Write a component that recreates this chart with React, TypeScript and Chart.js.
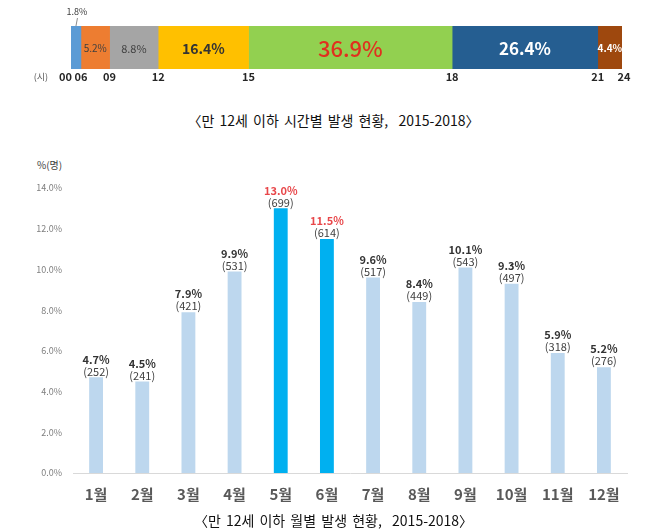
import React, { useEffect, useRef } from "react";
import { Chart, registerables } from "chart.js";

Chart.register(...registerables);

// ---------- data ----------
const hourTickLabels = ["00", "06", "09", "12", "15", "18", "21", "24"];
const hourShares = [1.8, 5.2, 8.8, 16.4, 36.9, 26.4, 4.4];

const monthLabels = ["1월", "2월", "3월", "4월", "5월", "6월", "7월", "8월", "9월", "10월", "11월", "12월"];
const monthShares = [4.7, 4.5, 7.9, 9.9, 13.0, 11.5, 9.6, 8.4, 10.1, 9.3, 5.9, 5.2];
const monthCounts = [252, 241, 421, 531, 699, 614, 517, 449, 543, 497, 318, 276];
const highlightMonthIdx = [4, 5];

const yTickMin = 0;
const yTickMax = 14;
const yTickStep = 2;

const hourCaption = "〈만 12세 이하 시간별 발생 현황,  2015-2018〉";
const monthCaption = "〈만 12세 이하 월별 발생 현황,  2015-2018〉";
const hourUnit = "(시)";
const yUnit = "%(명)";

// ---------- styles ----------
const FONT = "'Noto Sans CJK KR', 'Noto Sans', sans-serif";
const hourColors = ["#5B9BD5", "#ED7D31", "#A5A5A5", "#FFC000", "#92D050", "#255E91", "#9E480E"];
const segStyles = [
  { size: 9, weight: "normal", color: "#404040", outside: true },
  { size: 10, weight: "normal", color: "#404040" },
  { size: 11, weight: "normal", color: "#404040" },
  { size: 14, weight: "bold", color: "#333333" },
  { size: 22, weight: "500", color: "#E0301E" },
  { size: 17, weight: "bold", color: "#FFFFFF" },
  { size: 10, weight: "bold", color: "#FFFFFF" },
];
const LIGHT = "#BDD7EE";
const HIGHLIGHT = "#00B0F0";
const RED = "#E8474A";

const topPlugin = {
  id: "topLabels",
  afterDatasetsDraw(chart: any) {
    const ctx = chart.ctx;
    const xs = chart.scales.x;
    const area = chart.chartArea;
    ctx.save();
    ctx.textBaseline = "middle";
    hourShares.forEach((v, i) => {
      const el = chart.getDatasetMeta(i).data[0];
      const st = segStyles[i];
      const cx = (el.x + el.base) / 2;
      ctx.font = `${st.weight} ${st.size}px ${FONT}`;
      ctx.fillStyle = st.color;
      ctx.textAlign = "center";
      const txt = v.toFixed(1) + "%";
      if (st.outside) {
        ctx.fillText(txt, cx + 1, area.top - 14);
        ctx.strokeStyle = "#8C8C8C";
        ctx.lineWidth = 1;
        ctx.beginPath();
        ctx.moveTo(cx + 1.5, area.top - 8);
        ctx.lineTo(cx, area.top);
        ctx.stroke();
      } else {
        ctx.fillText(txt, cx, el.y + 1);
      }
    });
    // hour ticks
    const ty = area.bottom + 8;
    let cum = 0;
    ctx.font = `bold 11px ${FONT}`;
    ctx.fillStyle = "#262626";
    hourTickLabels.forEach((lab, i) => {
      const px = xs.getPixelForValue(cum);
      if (i === 0) {
        ctx.textAlign = "right";
        ctx.fillText(lab, px + 1, ty);
      } else {
        ctx.textAlign = "center";
        ctx.fillText(lab, px + (i === hourTickLabels.length - 1 ? 2 : 0), ty);
      }
      if (i < hourShares.length) cum += hourShares[i];
    });
    ctx.font = `normal 9px ${FONT}`;
    ctx.fillStyle = "#595959";
    ctx.textAlign = "right";
    ctx.fillText(hourUnit, xs.getPixelForValue(0) - 23, ty);
    ctx.restore();
  },
};

const barLabelPlugin = {
  id: "barLabels",
  afterDatasetsDraw(chart: any) {
    const ctx = chart.ctx;
    const meta = chart.getDatasetMeta(0);
    ctx.save();
    ctx.textAlign = "center";
    ctx.textBaseline = "middle";
    meta.data.forEach((el: any, i: number) => {
      const hl = highlightMonthIdx.includes(i);
      ctx.font = `bold 11px ${FONT}`;
      ctx.fillStyle = hl ? RED : "#333333";
      ctx.fillText(monthShares[i].toFixed(1) + "%", el.x, el.y - 18);
      ctx.font = `normal 11px ${FONT}`;
      ctx.fillStyle = "#404040";
      ctx.fillText("(" + monthCounts[i] + ")", el.x, el.y - 6);
    });
    ctx.restore();
  },
};

function TopChart() {
  const ref = useRef<HTMLCanvasElement>(null);
  useEffect(() => {
    if (!ref.current) return;
    const total = hourShares.reduce((a, b) => a + b, 0);
    const chart = new Chart(ref.current, {
      type: "bar",
      data: {
        labels: [""],
        datasets: hourShares.map((v, i) => ({
          label: hourTickLabels[i],
          data: [v],
          backgroundColor: hourColors[i],
          borderWidth: 0,
          barPercentage: 1,
          categoryPercentage: 1,
        })),
      },
      options: {
        indexAxis: "y",
        animation: false,
        responsive: false,
        maintainAspectRatio: false,
        layout: { padding: { left: 71, right: 45, top: 26, bottom: 31 } },
        plugins: { legend: { display: false }, tooltip: { enabled: false } },
        scales: {
          x: { display: false, stacked: true, min: 0, max: total },
          y: { display: false, stacked: true },
        },
      },
      plugins: [topPlugin],
    } as any);
    return () => chart.destroy();
  }, []);
  return (
    <canvas
      ref={ref}
      width={667}
      height={100}
      style={{ position: "absolute", left: 0, top: 0, width: 667, height: 100 }}
    />
  );
}

function MonthChart() {
  const ref = useRef<HTMLCanvasElement>(null);
  useEffect(() => {
    if (!ref.current) return;
    const chart = new Chart(ref.current, {
      type: "bar",
      data: {
        labels: monthLabels,
        datasets: [
          {
            data: monthShares,
            backgroundColor: monthShares.map((_, i) => (highlightMonthIdx.includes(i) ? HIGHLIGHT : LIGHT)),
            borderWidth: 0,
            barPercentage: 1,
            categoryPercentage: 0.3,
          },
        ],
      },
      options: {
        animation: false,
        responsive: false,
        maintainAspectRatio: false,
        layout: { padding: { left: 0, right: 40, top: 48, bottom: 0 } },
        plugins: { legend: { display: false }, tooltip: { enabled: false } },
        scales: {
          x: {
            grid: { display: false, drawTicks: false },
            border: { display: true, color: "#D9D9D9", width: 1 },
            ticks: { font: { family: FONT, size: 15, weight: "bold" }, color: "#595959", padding: 12 },
            afterFit: (s: any) => {
              s.height = 42;
            },
          },
          y: {
            min: yTickMin,
            max: yTickMax,
            grid: { display: false, drawTicks: false },
            border: { display: false },
            ticks: {
              stepSize: yTickStep,
              callback: (v: any) => Number(v).toFixed(1) + "%",
              font: { family: FONT, size: 9 },
              color: "#7F7F7F",
              padding: 11,
            },
            afterFit: (s: any) => {
              s.width = 73;
            },
          },
        },
      },
      plugins: [barLabelPlugin],
    } as any);
    return () => chart.destroy();
  }, []);
  return (
    <canvas
      ref={ref}
      width={667}
      height={375}
      style={{ position: "absolute", left: 0, top: 140, width: 667, height: 375 }}
    />
  );
}

export default function App() {
  const caption: React.CSSProperties = {
    position: "absolute",
    left: 0,
    width: 667,
    textAlign: "center",
    fontFamily: FONT,
    fontSize: 14,
    lineHeight: "18px",
    color: "#111",
    whiteSpace: "pre",
    wordSpacing: 2,
  };
  return (
    <div style={{ position: "absolute", left: 0, top: 0, width: 667, height: 532, background: "#fff", overflow: "hidden" }}>
      <TopChart />
      <div style={{ ...caption, top: 111 }}>{hourCaption}</div>
      <div
        style={{
          position: "absolute",
          left: 37,
          top: 157,
          fontFamily: FONT,
          fontSize: 10,
          lineHeight: "16px",
          color: "#404040",
        }}
      >
        {yUnit}
      </div>
      <MonthChart />
      <div style={{ ...caption, top: 511 }}>{monthCaption}</div>
    </div>
  );
}
